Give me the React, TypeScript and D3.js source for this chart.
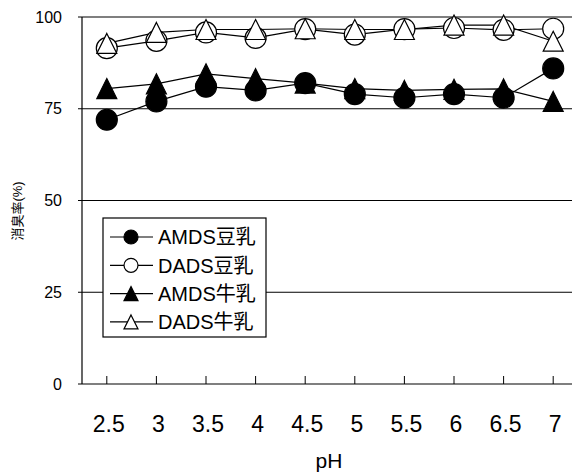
import React from "react";
import * as d3 from "d3";

const phLabels = ["2.5", "3", "3.5", "4", "4.5", "5", "5.5", "6", "6.5", "7"];
const amdsSoy = [72, 77, 81, 80, 82, 79, 78, 79, 78, 86];
const dadsSoy = [91.5, 93.5, 95.8, 94.3, 96.7, 95.2, 96.7, 97, 96.5, 96.8];
const amdsMilk = [80.5, 81.8, 84.5, 83.2, 82, 80.5, 80, 80.3, 80.4, 77];
const dadsMilk = [92.8, 95.8, 96.6, 96.6, 96.8, 96.6, 96.6, 97.8, 97.8, 93.4];
const yTicks = [0, 25, 50, 75, 100];

type Series = { name: string; values: number[]; shape: "circle" | "triangle"; filled: boolean };
const series: Series[] = [
  { name: "AMDS豆乳", values: amdsSoy, shape: "circle", filled: true },
  { name: "DADS豆乳", values: dadsSoy, shape: "circle", filled: false },
  { name: "AMDS牛乳", values: amdsMilk, shape: "triangle", filled: true },
  { name: "DADS牛乳", values: dadsMilk, shape: "triangle", filled: false },
];

const W = 572;
const H = 474;
const left = 82;
const right = 578;
const top = 17;
const bottom = 384;
const FONT = "'Liberation Sans', Arial, 'Noto Sans CJK JP', sans-serif";

function Marker({ x, y, s, r }: { x: number; y: number; s: Series; r: number }) {
  const fill = s.filled ? "#000" : "#fff";
  if (s.shape === "circle") {
    return <circle cx={x} cy={y} r={r} fill={fill} stroke="#000" strokeWidth={1.2} />;
  }
  const h = r * 2;
  const w = r * 2;
  const d = `M${x},${y - h / 2}L${x + w / 2},${y + h / 2}L${x - w / 2},${y + h / 2}Z`;
  return <path d={d} fill={fill} stroke="#000" strokeWidth={1.2} />;
}

export default function App() {
  const x = d3.scaleBand<string>().domain(phLabels).range([left, right]);
  const cx = (l: string) => (x(l) as number) + x.bandwidth() / 2;
  const y = d3.scaleLinear().domain([0, 100]).range([bottom, top]);
  const line = d3
    .line<number>()
    .x((_, i) => cx(phLabels[i]))
    .y((v) => y(v));

  return (
    <svg width={W} height={H} style={{ position: "absolute", left: 0, top: 0, background: "#fff" }} fontFamily={FONT}>
      <rect x={0} y={0} width={W} height={H} fill="#fff" />
      {yTicks.filter((t) => t > 0).map((t) => (
        <line key={t} x1={left} x2={right} y1={y(t)} y2={y(t)} stroke="#000" strokeWidth={1.2} />
      ))}
      <line x1={left} x2={left} y1={top} y2={bottom} stroke="#000" strokeWidth={1.2} />
      <line x1={left} x2={right} y1={bottom} y2={bottom} stroke="#000" strokeWidth={1.2} />
      {yTicks.map((t) => (
        <g key={t}>
          <line x1={left - 4} x2={left} y1={y(t)} y2={y(t)} stroke="#000" />
          <text x={62} y={y(t)} dy="0.35em" textAnchor="end" fontSize={16}>
            {t}
          </text>
        </g>
      ))}
      {phLabels.map((l) => (
        <g key={l}>
          <line x1={cx(l)} x2={cx(l)} y1={bottom} y2={bottom - 8} stroke="#000" />
          <text x={cx(l) + 2} y={432} textAnchor="middle" fontSize={23}>
            {l}
          </text>
        </g>
      ))}
      <text x={329} y={468} textAnchor="middle" fontSize={21}>
        pH
      </text>
      <text transform={`translate(17,211) rotate(-90)`} textAnchor="middle" dy="0.35em" fontSize={13}>
        消臭率(%)
      </text>
      {series.map((s) => (
        <path key={s.name} d={line(s.values) || ""} fill="none" stroke="#000" strokeWidth={1.2} />
      ))}
      {series.map((s) =>
        s.values.map((v, i) => <Marker key={s.name + i} x={cx(phLabels[i])} y={y(v)} s={s} r={s.shape === "circle" ? 10.5 : 10} />)
      )}
      <g>
        <rect x={103} y={218} width={163} height={119} fill="#fff" stroke="#000" strokeWidth={1.2} />
        {series.map((s, i) => {
          const ly = 237 + i * 28.3;
          return (
            <g key={s.name}>
              <line x1={110} x2={153} y1={ly} y2={ly} stroke="#000" strokeWidth={1.2} />
              <Marker x={131} y={ly} s={s} r={7} />
              <text x={158} y={ly} dy="0.36em" fontSize={20}>
                {s.name}
              </text>
            </g>
          );
        })}
      </g>
    </svg>
  );
}
